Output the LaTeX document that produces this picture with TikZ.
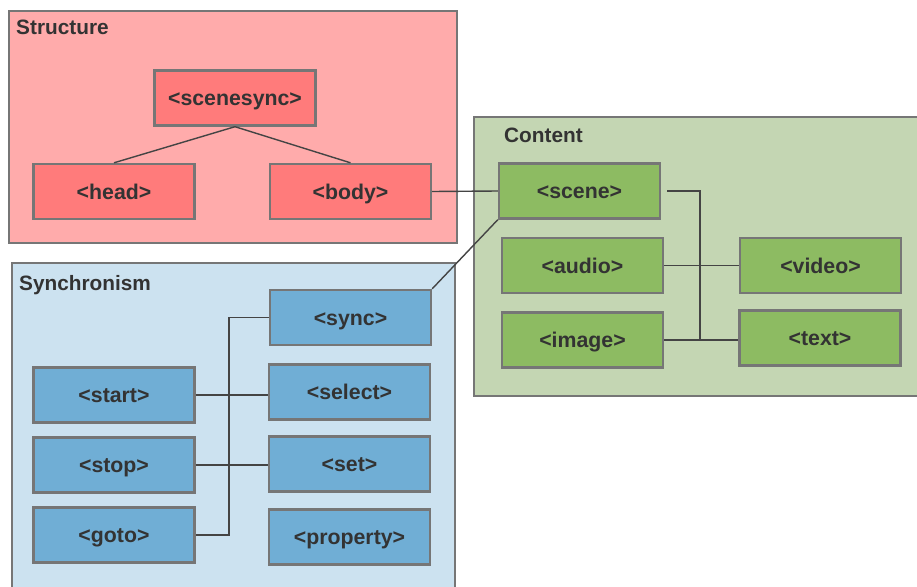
\documentclass[tikz,border=0pt]{standalone}
\usepackage{fontspec}
\setmainfont{Liberation Sans}
\definecolor{structbg}{HTML}{FFABAB}
\definecolor{structfill}{HTML}{FF7B7B}
\definecolor{contentbg}{HTML}{C4D6B3}
\definecolor{contentfill}{HTML}{8DBB62}
\definecolor{syncbg}{HTML}{CCE2F0}
\definecolor{syncfill}{HTML}{70AED5}
\definecolor{edgegray}{HTML}{767676}
\definecolor{linkgray}{HTML}{444444}
\definecolor{inkgray}{HTML}{333333}
\begin{document}
\begin{tikzpicture}[x=1pt,y=-1pt,
  group/.style={draw=edgegray,line width=2.4pt},
  grouptitle/.style={anchor=base west,inner sep=0pt,text=inkgray,font=\fontsize{20.8}{24}\selectfont\bfseries},
  elem/.style={draw=edgegray,line width=2.4pt,minimum width=161pt,minimum height=55pt,inner sep=0pt,
    text height=15pt,text depth=0pt,
    text=inkgray,font=\fontsize{21.3}{24}\selectfont\bfseries},
  selem/.style={elem,fill=structfill},
  celem/.style={elem,fill=contentfill},
  yelem/.style={elem,fill=syncfill},
  link/.style={draw=linkgray,line width=1.4pt}]
\useasboundingbox (0,0) rectangle (917,586);
\clip (0,0) rectangle (917,586);

% group panels
\fill[white] (0,0) rectangle (917,586);
\draw[group,fill=structbg] (9,11) rectangle (457,243);
\draw[group,fill=contentbg] (474,117) rectangle (930,396);
\draw[group,fill=syncbg] (12,263) rectangle (455,600);

\node[grouptitle] (tstruct) at (16,35) {Structure};
\node[grouptitle] (tcontent) at (504,142) {Content};
\node[grouptitle] (tsync) at (19,290) {Synchronism};

% structure elements
\node[selem] (scenesync) at (235,98) {<scenesync>};
\node[selem] (head) at (114,191.5) {<head>};
\node[selem] (body) at (350.5,191.5) {<body>};

% content elements
\node[celem] (scene) at (579.5,191) {<scene>};
\node[celem] (audio) at (582.5,265.5) {<audio>};
\node[celem] (image) at (582.5,340) {<image>};
\node[celem] (video) at (820.5,265.5) {<video>};
\node[celem] (text) at (820,338) {<text>};

% synchronism elements
\node[yelem] (sync) at (350.5,317.5) {<sync>};
\node[yelem] (select) at (349.5,392) {<select>};
\node[yelem] (set) at (349.5,464) {<set>};
\node[yelem] (property) at (349.5,537) {<property>};
\node[yelem] (start) at (114,395) {<start>};
\node[yelem] (stop) at (114,465) {<stop>};
\node[yelem] (goto) at (114,535) {<goto>};

\coordinate (ctrunk) at (700,0);
\coordinate (ytrunk) at (229,0);

% connectors
\draw[link] (scenesync.south) -- (head.north);
\draw[link] (scenesync.south) -- (body.north);
\draw[link] (body.east) -- (scene.west);
\draw[link] (sync.north east) -- (scene.south west);

\draw[link] ([xshift=6pt]scene.east) -| (ctrunk |- image.east);
\draw[link] (audio.east) -- (audio.east -| video.west);
\draw[link] (image.east) -- (image.east -| text.west);

\draw[link] (sync.west) -| (ytrunk |- goto.east) -- (goto.east);
\draw[link] (start.east) -- (start.east -| select.west);
\draw[link] (stop.east) -- (stop.east -| set.west);
\end{tikzpicture}
\end{document}
